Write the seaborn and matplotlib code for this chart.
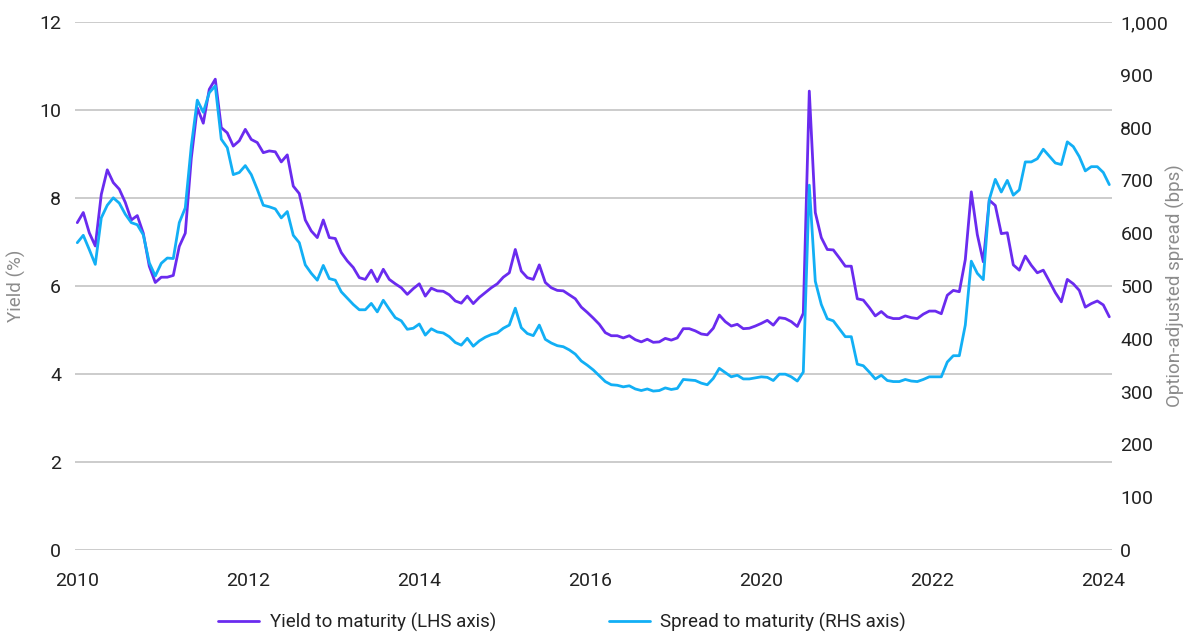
import numpy as np
import pandas as pd
import matplotlib
matplotlib.use("Agg")
import matplotlib.pyplot as plt
import seaborn as sns

# Monthly series, Jan 2010 onwards
yield_to_maturity = [
    7.44, 7.67, 7.21, 6.91, 8.08, 8.64, 8.35, 8.20, 7.90, 7.50,
    7.60, 7.20, 6.45, 6.08, 6.20, 6.20, 6.24, 6.90, 7.20, 8.90,
    10.05, 9.70, 10.47, 10.70, 9.60, 9.48, 9.18, 9.30, 9.56, 9.33,
    9.26, 9.03, 9.07, 9.05, 8.82, 8.98, 8.27, 8.10, 7.50, 7.25,
    7.10, 7.50, 7.10, 7.08, 6.76, 6.57, 6.42, 6.19, 6.15, 6.36,
    6.10, 6.38, 6.15, 6.05, 5.96, 5.81, 5.94, 6.05, 5.77, 5.95,
    5.89, 5.88, 5.80, 5.66, 5.61, 5.77, 5.60, 5.74, 5.85, 5.96,
    6.05, 6.20, 6.30, 6.83, 6.34, 6.19, 6.15, 6.48, 6.08, 5.96,
    5.90, 5.89, 5.80, 5.71, 5.52, 5.40, 5.27, 5.13, 4.94, 4.87,
    4.87, 4.82, 4.87, 4.78, 4.73, 4.79, 4.72, 4.73, 4.81, 4.77,
    4.82, 5.03, 5.03, 4.98, 4.91, 4.89, 5.04, 5.34, 5.19, 5.09,
    5.13, 5.03, 5.04, 5.09, 5.15, 5.22, 5.11, 5.28, 5.26, 5.19,
    5.08, 5.38, 10.43, 7.67, 7.10, 6.83, 6.82, 6.64, 6.45, 6.45,
    5.71, 5.68, 5.51, 5.32, 5.42, 5.30, 5.26, 5.26, 5.32, 5.28,
    5.26, 5.36, 5.43, 5.43, 5.37, 5.79, 5.90, 5.87, 6.60, 8.14,
    7.17, 6.55, 7.95, 7.83, 7.19, 7.21, 6.48, 6.36, 6.68, 6.47,
    6.30, 6.36, 6.11, 5.85, 5.64, 6.15, 6.05, 5.90, 5.52, 5.60,
    5.66, 5.57, 5.30,
]

spread_to_maturity = [
    582, 596, 569, 541, 629, 653, 667, 657, 636, 620,
    616, 597, 544, 519, 543, 553, 552, 620, 648, 765,
    852, 829, 866, 879, 778, 762, 711, 715, 728, 711,
    683, 653, 650, 646, 629, 641, 596, 582, 540, 524,
    511, 539, 514, 511, 489, 477, 465, 455, 455, 467,
    451, 473, 456, 440, 434, 418, 420, 428, 407, 419,
    413, 411, 404, 393, 388, 401, 386, 396, 403, 408,
    411, 420, 426, 458, 421, 410, 406, 426, 399, 392,
    387, 385, 379, 371, 358, 350, 341, 330, 319, 313,
    312, 309, 311, 305, 302, 305, 301, 302, 307, 304,
    306, 323, 322, 321, 316, 313, 325, 344, 336, 328,
    331, 324, 324, 326, 328, 327, 321, 333, 333, 328,
    320, 337, 691, 509, 465, 438, 434, 419, 404, 404,
    352, 349, 337, 324, 331, 321, 319, 319, 323, 320,
    319, 323, 328, 328, 328, 356, 368, 368, 426, 547,
    524, 512, 664, 702, 678, 700, 672, 682, 735, 735,
    741, 759, 746, 733, 730, 773, 764, 745, 718, 726,
    726, 715, 692,
]

year_labels = ["2010", "2012", "2014", "2016", "2020", "2022", "2024"]
left_ticks = [0, 2, 4, 6, 8, 10, 12]
right_ticks = [0, 100, 200, 300, 400, 500, 600, 700, 800, 900, 1000]

df = pd.DataFrame({
    "month": np.arange(len(yield_to_maturity)),
    "ytm": yield_to_maturity,
    "spread": spread_to_maturity,
})

sns.set_theme(style="white")
plt.rcParams["font.family"] = ["Roboto", "DejaVu Sans"]

purple = "#6A2BEF"
cyan = "#12AFF5"
tick_col = "#222222"
label_col = "#8c8c8c"

fig = plt.figure(figsize=(11.86, 6.32), dpi=100)
ax = fig.add_axes([75 / 1186, 1 - 550 / 632, (1112 - 75) / 1186, (550 - 22) / 632])
ax2 = ax.twinx()

sns.lineplot(data=df, x="month", y="ytm", ax=ax, color=purple, linewidth=2.0,
             label="Yield to maturity (LHS axis)", legend=False)
sns.lineplot(data=df, x="month", y="spread", ax=ax2, color=cyan, linewidth=2.0,
             label="Spread to maturity (RHS axis)", legend=False)

ax.set_xlim(-0.38, 172.45)
ax.set_ylim(0, 12)
ax2.set_ylim(0, 1000)

ax.set_xticks(np.linspace(0, 171, len(year_labels)))
ax.set_xticklabels(year_labels)
ax.set_yticks(left_ticks)
ax2.set_yticks(right_ticks)
ax2.set_yticklabels([f"{v:,}" for v in right_ticks])

ax.grid(axis="y", color="#c8c8c8", linewidth=1.3)
ax.grid(axis="x", visible=False)
ax2.grid(False)
for a in (ax, ax2):
    for s in a.spines.values():
        s.set_visible(False)

ax.tick_params(axis="y", length=0, pad=10, labelsize=14, labelcolor=tick_col)
ax.tick_params(axis="x", length=0, pad=16, labelsize=14, labelcolor=tick_col)
ax2.tick_params(axis="y", length=0, pad=6, labelsize=14, labelcolor=tick_col)

ax.set_xlabel("")
ax.set_ylabel("Yield (%)", fontsize=13.5, color=label_col)
ax.yaxis.set_label_coords(-0.047, 0.5)
ax2.set_ylabel("Option-adjusted spread (bps)", fontsize=13.5, color=label_col)
ax2.yaxis.set_label_coords(1.052, 0.5)

h1, l1 = ax.get_legend_handles_labels()
h2, l2 = ax2.get_legend_handles_labels()
fig.legend(h1 + h2, l1 + l2, loc="center", bbox_to_anchor=(562 / 1186, 1 - 622 / 632),
           ncol=2, frameon=False, fontsize=13.5, handlelength=2.2, handletextpad=0.55,
           columnspacing=6.0, labelcolor=tick_col)

fig.savefig("out.png", dpi=100)
